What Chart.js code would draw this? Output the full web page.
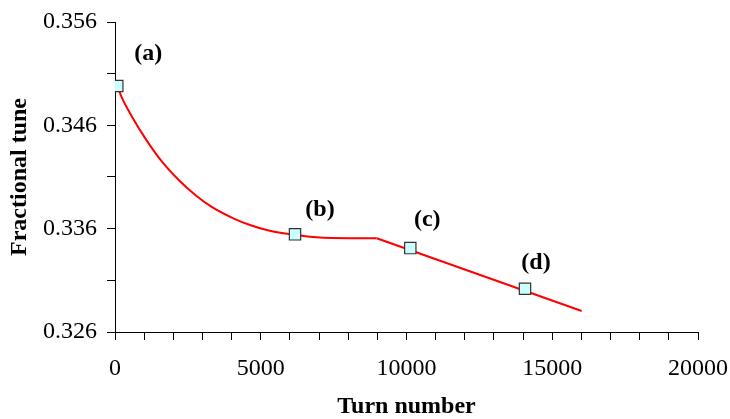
<!DOCTYPE html>
<html lang="en">
<head>
    <meta charset="UTF-8">
    <title>Fractional tune vs turn number</title>
    <style>
        body { margin: 0; background: #fff; }
        .chart-container { position: relative; width: 730px; height: 419px; }
    </style>
</head>
<body>
    <div class="chart-container">
        <canvas id="tuneChart"></canvas>
    </div>

    <script src="https://cdn.jsdelivr.net/npm/chart.js"></script>
    <script>
        // curved part
        const curveTurns = [79, 240, 583, 1039, 1612, 2185, 2755, 3304, 4058, 4631, 5204, 5774, 6175, 6919, 8062, 8978];
        const curveTune = [0.34985, 0.34865, 0.34684, 0.34474, 0.34248, 0.34071, 0.33926, 0.33813, 0.3370, 0.33635, 0.33587, 0.33555, 0.3354, 0.33516, 0.33507, 0.33507];

        // straight part after the knee
        const slopeTurns = [8978, 16010];
        const slopeTune = [0.33507, 0.32803];

        // marked points (a)-(d)
        const markerTurns = [79, 6175, 10130, 14065];
        const markerTune = [0.3498, 0.33545, 0.33412, 0.33018];
        const markerNames = ['(a)', '(b)', '(c)', '(d)'];

        // axis ticks
        const yTicks = [0.326, 0.331, 0.336, 0.341, 0.346, 0.351, 0.356];
        const yTickLabels = ['0.326', '', '0.336', '', '0.346', '', '0.356'];
        const xTickLabels = ['0', '5000', '10000', '15000', '20000'];

        const serif = 'Liberation Serif';

        // pixel shift of each tag from its marker
        const tagShift = [[31, -32], [25, -25], [17, -28], [11, -26]];

        const tagPlugin = {
            id: 'tags',
            afterDatasetsDraw(chart) {
                const ctx = chart.ctx;
                const xs = chart.scales.x, ys = chart.scales.y;
                ctx.save();
                ctx.font = 'bold 24px "' + serif + '"';
                ctx.fillStyle = '#000';
                ctx.textAlign = 'center';
                ctx.textBaseline = 'middle';
                markerNames.forEach(function(name, i) {
                    const px = xs.getPixelForValue(markerTurns[i]) + tagShift[i][0];
                    const py = ys.getPixelForValue(markerTune[i]) + tagShift[i][1];
                    ctx.fillText(name, px, py);
                });
                ctx.restore();
            }
        };

        const toXY = (xs, ys) => xs.map((t, i) => ({ x: t, y: ys[i] }));

        new Chart(document.getElementById('tuneChart').getContext('2d'), {
            type: 'scatter',
            data: {
                datasets: [
                    {
                        label: 'points',
                        data: toXY(markerTurns, markerTune),
                        pointStyle: 'rect',
                        pointRadius: 8,
                        pointBackgroundColor: '#ccffff',
                        pointBorderColor: '#333333',
                        pointBorderWidth: 1.2,
                        showLine: false
                    },
                    {
                        label: 'curve',
                        data: toXY(curveTurns, curveTune),
                        showLine: true,
                        borderColor: '#ff0000',
                        borderWidth: 2,
                        pointRadius: 0,
                        cubicInterpolationMode: 'monotone',
                        fill: false
                    },
                    {
                        label: 'slope',
                        data: toXY(slopeTurns, slopeTune),
                        showLine: true,
                        borderColor: '#ff0000',
                        borderWidth: 2,
                        pointRadius: 0,
                        tension: 0,
                        fill: false
                    }
                ]
            },
            options: {
                responsive: true,
                maintainAspectRatio: false,
                animation: false,
                layout: { padding: { top: 22, right: 32, left: 0, bottom: 0 } },
                plugins: {
                    legend: { display: false },
                    tooltip: { enabled: false }
                },
                scales: {
                    x: {
                        type: 'linear',
                        min: 0,
                        max: 20000,
                        afterBuildTicks: function(scale) {
                            const t = [];
                            for (let v = 0; v <= 20000; v += 1000) t.push({ value: v });
                            scale.ticks = t;
                        },
                        afterFit: function(scale) {
                            scale.height = 87;
                            scale.paddingLeft = 0;
                            scale.paddingRight = 0;
                        },
                        grid: { drawOnChartArea: false, color: '#000', tickLength: 8, tickWidth: 1 },
                        border: { color: '#000', width: 1 },
                        ticks: {
                            autoSkip: false,
                            maxRotation: 0,
                            padding: 14,
                            color: '#000',
                            font: { family: serif, size: 24 },
                            callback: function(value) {
                                const s = String(value);
                                return xTickLabels.includes(s) ? s : '';
                            }
                        },
                        title: {
                            display: true,
                            text: 'Turn number',
                            color: '#000',
                            font: { family: serif, size: 24, weight: 'bold', lineHeight: 1 },
                            padding: { top: 0, bottom: 0 }
                        }
                    },
                    y: {
                        type: 'linear',
                        min: 0.326,
                        max: 0.356,
                        afterBuildTicks: function(scale) {
                            scale.ticks = yTicks.map(v => ({ value: v }));
                        },
                        afterFit: function(scale) {
                            scale.width = 115;
                            scale.paddingTop = 0;
                            scale.paddingBottom = 0;
                        },
                        grid: { drawOnChartArea: false, color: '#000', tickLength: 8, tickWidth: 1 },
                        border: { color: '#000', width: 1 },
                        ticks: {
                            padding: 10,
                            color: '#000',
                            font: { family: serif, size: 24 },
                            callback: function(value, index) {
                                return yTickLabels[index];
                            }
                        },
                        title: {
                            display: true,
                            text: 'Fractional tune',
                            color: '#000',
                            font: { family: serif, size: 24, weight: 'bold', lineHeight: 1 },
                            padding: { top: 8, bottom: 0 }
                        }
                    }
                }
            },
            plugins: [tagPlugin]
        });
    </script>
</body>
</html>
